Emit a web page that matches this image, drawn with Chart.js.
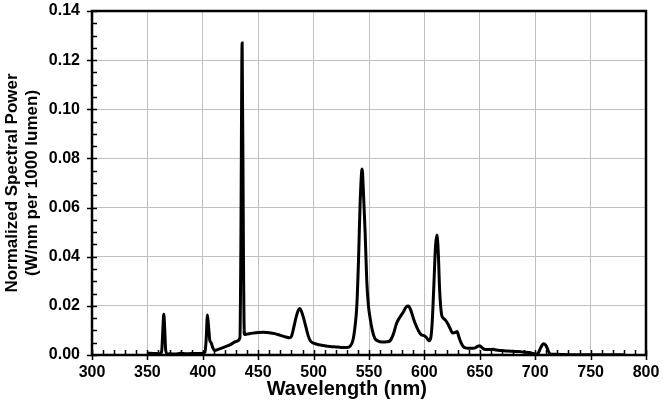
<!DOCTYPE html>
<html>
<head>
<meta charset="utf-8">
<script src="https://cdn.jsdelivr.net/npm/chart.js@4.4.1/dist/chart.umd.min.js"></script>
<style>
html,body{margin:0;padding:0;background:#fff;}
canvas{display:block;}
</style>
</head>
<body>
<canvas id="c" width="663" height="407"></canvas>
<script>
// Wavelength (nm)
const wavelengths = [
  350,352,355,358,360,362,363,364,364.8,365.6,366.5,368,370,375,380,385,390,395,400,
  402,403,404.2,405.3,406.3,407.5,409,410.5,412,415,420,425,430,433.5,
  434.3,435.5,436.7,437.5,440,445,450,455,460,465,470,475,478,
  480,482,484,486,487.5,489,491,493,495,497,500,505,510,515,520,525,530,
  533,535.5,537.5,539,540.5,542,543.8,545,546.5,548,549.5,551,553,555,558,562,566,
  569,572,575,578,581,583.5,585.5,587.5,590,592,594.5,597,600,602,604,
  605.5,607,608.5,610,611.3,612.5,613.8,615.5,617,619,621,623,625.5,628,629.5,
  631,633,635,638,642,645,648,650,652,655,658,662,665,670,675,680,685,690,695,
  698,701,703,705,707.5,709.5,711.5,713,715,720,725,730,740,760,780
];
// Normalized spectral power (W/nm per 1000 lumen)
const spectralPower = [
  0.0008,0.0007,0.0006,0.0006,0.0005,0.0006,0.0020,0.0110,0.0166,0.0110,0.0020,0.0004,0.0005,0.0004,0.0007,0.0005,0.0006,0.0006,0.0007,
  0.0012,0.0060,0.0163,0.0110,0.0060,0.0050,0.0030,0.0018,0.0020,0.0025,0.0033,0.0042,0.0055,0.0069,
  0.0400,0.1270,0.0400,0.0083,0.0085,0.0089,0.0092,0.0093,0.0091,0.0087,0.0080,0.0073,0.0070,
  0.0076,0.0110,0.0150,0.0180,0.0189,0.0178,0.0150,0.0115,0.0080,0.0058,0.0048,0.0042,0.0038,0.0035,0.0033,0.0031,0.0031,
  0.0036,0.0060,0.0120,0.0200,0.0380,0.0620,0.0757,0.0660,0.0500,0.0300,0.0200,0.0150,0.0100,0.0070,0.0057,0.0053,0.0054,
  0.0058,0.0085,0.0130,0.0155,0.0175,0.0195,0.0199,0.0185,0.0150,0.0125,0.0100,0.0083,0.0078,0.0070,0.0058,
  0.0065,0.0130,0.0280,0.0440,0.0488,0.0420,0.0260,0.0165,0.0150,0.0142,0.0128,0.0110,0.0090,0.0092,0.0096,
  0.0075,0.0050,0.0035,0.0028,0.0027,0.0028,0.0035,0.0038,0.0030,0.0022,0.0022,0.0023,0.0020,0.0018,0.0016,0.0015,0.0014,0.0012,0.0010,
  0.0006,0.0003,0.0010,0.0030,0.0046,0.0040,0.0020,0.0006,0.0003,0.0003,0.0002,0.0001,0.0001,0.0001,0.0001
];
const xTickValues = [300,350,400,450,500,550,600,650,700,750,800];
const yTickValues = [0,0.02,0.04,0.06,0.08,0.10,0.12,0.14];
const xTitle = 'Wavelength (nm)';
const yTitle = ['Normalized Spectral Power','(W/nm per 1000 lumen)'];

const FONT = 'Arial, "Liberation Sans", Helvetica, sans-serif';

const framePlugin = {
  id: 'frame',
  afterDraw(chart) {
    const ctx = chart.ctx;
    const a = chart.chartArea;
    const xs = chart.scales.x, ys = chart.scales.y;
    ctx.save();
    ctx.strokeStyle = '#000';
    ctx.lineWidth = 1.5;
    ctx.beginPath();
    for (let v = 300; v <= 800; v += 10) {
      const px = Math.round(xs.getPixelForValue(v)) + 0.5;
      const major = v % 50 === 0;
      ctx.moveTo(px, a.bottom - 5);
      ctx.lineTo(px, major ? a.bottom + 5 : a.bottom);
    }
    for (let i = 0; i <= 28; i++) {
      const py = Math.round(ys.getPixelForValue(i * 0.005)) + 0.5;
      const major = i % 4 === 0;
      ctx.moveTo(major ? a.left - 5 : a.left, py);
      ctx.lineTo(a.left + 5, py);
    }
    ctx.stroke();
    ctx.lineWidth = 2.5;
    ctx.strokeRect(a.left, a.top, a.right - a.left, a.bottom - a.top);
    // x axis title (offset left of plot centre, as in the reference)
    ctx.fillStyle = '#000';
    ctx.font = 'bold 20px ' + FONT;
    ctx.textAlign = 'center';
    ctx.textBaseline = 'middle';
    ctx.fillText(xTitle, xs.getPixelForValue(530), 389);
    ctx.restore();
  }
};

new Chart(document.getElementById('c'), {
  type: 'line',
  data: {
    datasets: [{
      data: wavelengths.map((w, i) => ({x: w, y: spectralPower[i]})),
      borderColor: '#000',
      borderWidth: 3,
      pointRadius: 0,
      fill: false,
      tension: 0,
      cubicInterpolationMode: 'monotone'
    }]
  },
  options: {
    responsive: false,
    animation: false,
    devicePixelRatio: 1,
    layout: {padding: {top: 11, right: 17, left: 0, bottom: 0}},
    plugins: {legend: {display: false}, tooltip: {enabled: false}},
    scales: {
      x: {
        type: 'linear', min: 300, max: 800,
        afterBuildTicks: s => { s.ticks = xTickValues.map(v => ({value: v})); },
        afterFit: s => { s.height = 52; s.paddingLeft = 0; s.paddingRight = 0; s.paddingTop = 0; s.paddingBottom = 0; },
        grid: {color: '#bfbfbf', lineWidth: 1, drawTicks: false},
        border: {display: false},
        ticks: {color: '#000', font: {family: FONT, size: 16, weight: 'bold'}, padding: 8, maxRotation: 0, callback: v => String(v)},
        title: {display: false}
      },
      y: {
        type: 'linear', min: 0, max: 0.14,
        afterBuildTicks: s => { s.ticks = yTickValues.map(v => ({value: v})); },
        afterFit: s => { s.width = 92; s.paddingLeft = 0; s.paddingRight = 0; s.paddingTop = 0; s.paddingBottom = 0; },
        grid: {color: '#bfbfbf', lineWidth: 1, drawTicks: false},
        border: {display: false},
        ticks: {color: '#000', font: {family: FONT, size: 16, weight: 'bold'}, padding: 12, callback: v => Number(v).toFixed(2)},
        title: {display: true, text: yTitle, color: '#000', font: {family: FONT, size: 17, weight: 'bold'}, padding: {top: 2, bottom: 0}}
      }
    }
  },
  plugins: [framePlugin]
});
</script>
</body>
</html>
